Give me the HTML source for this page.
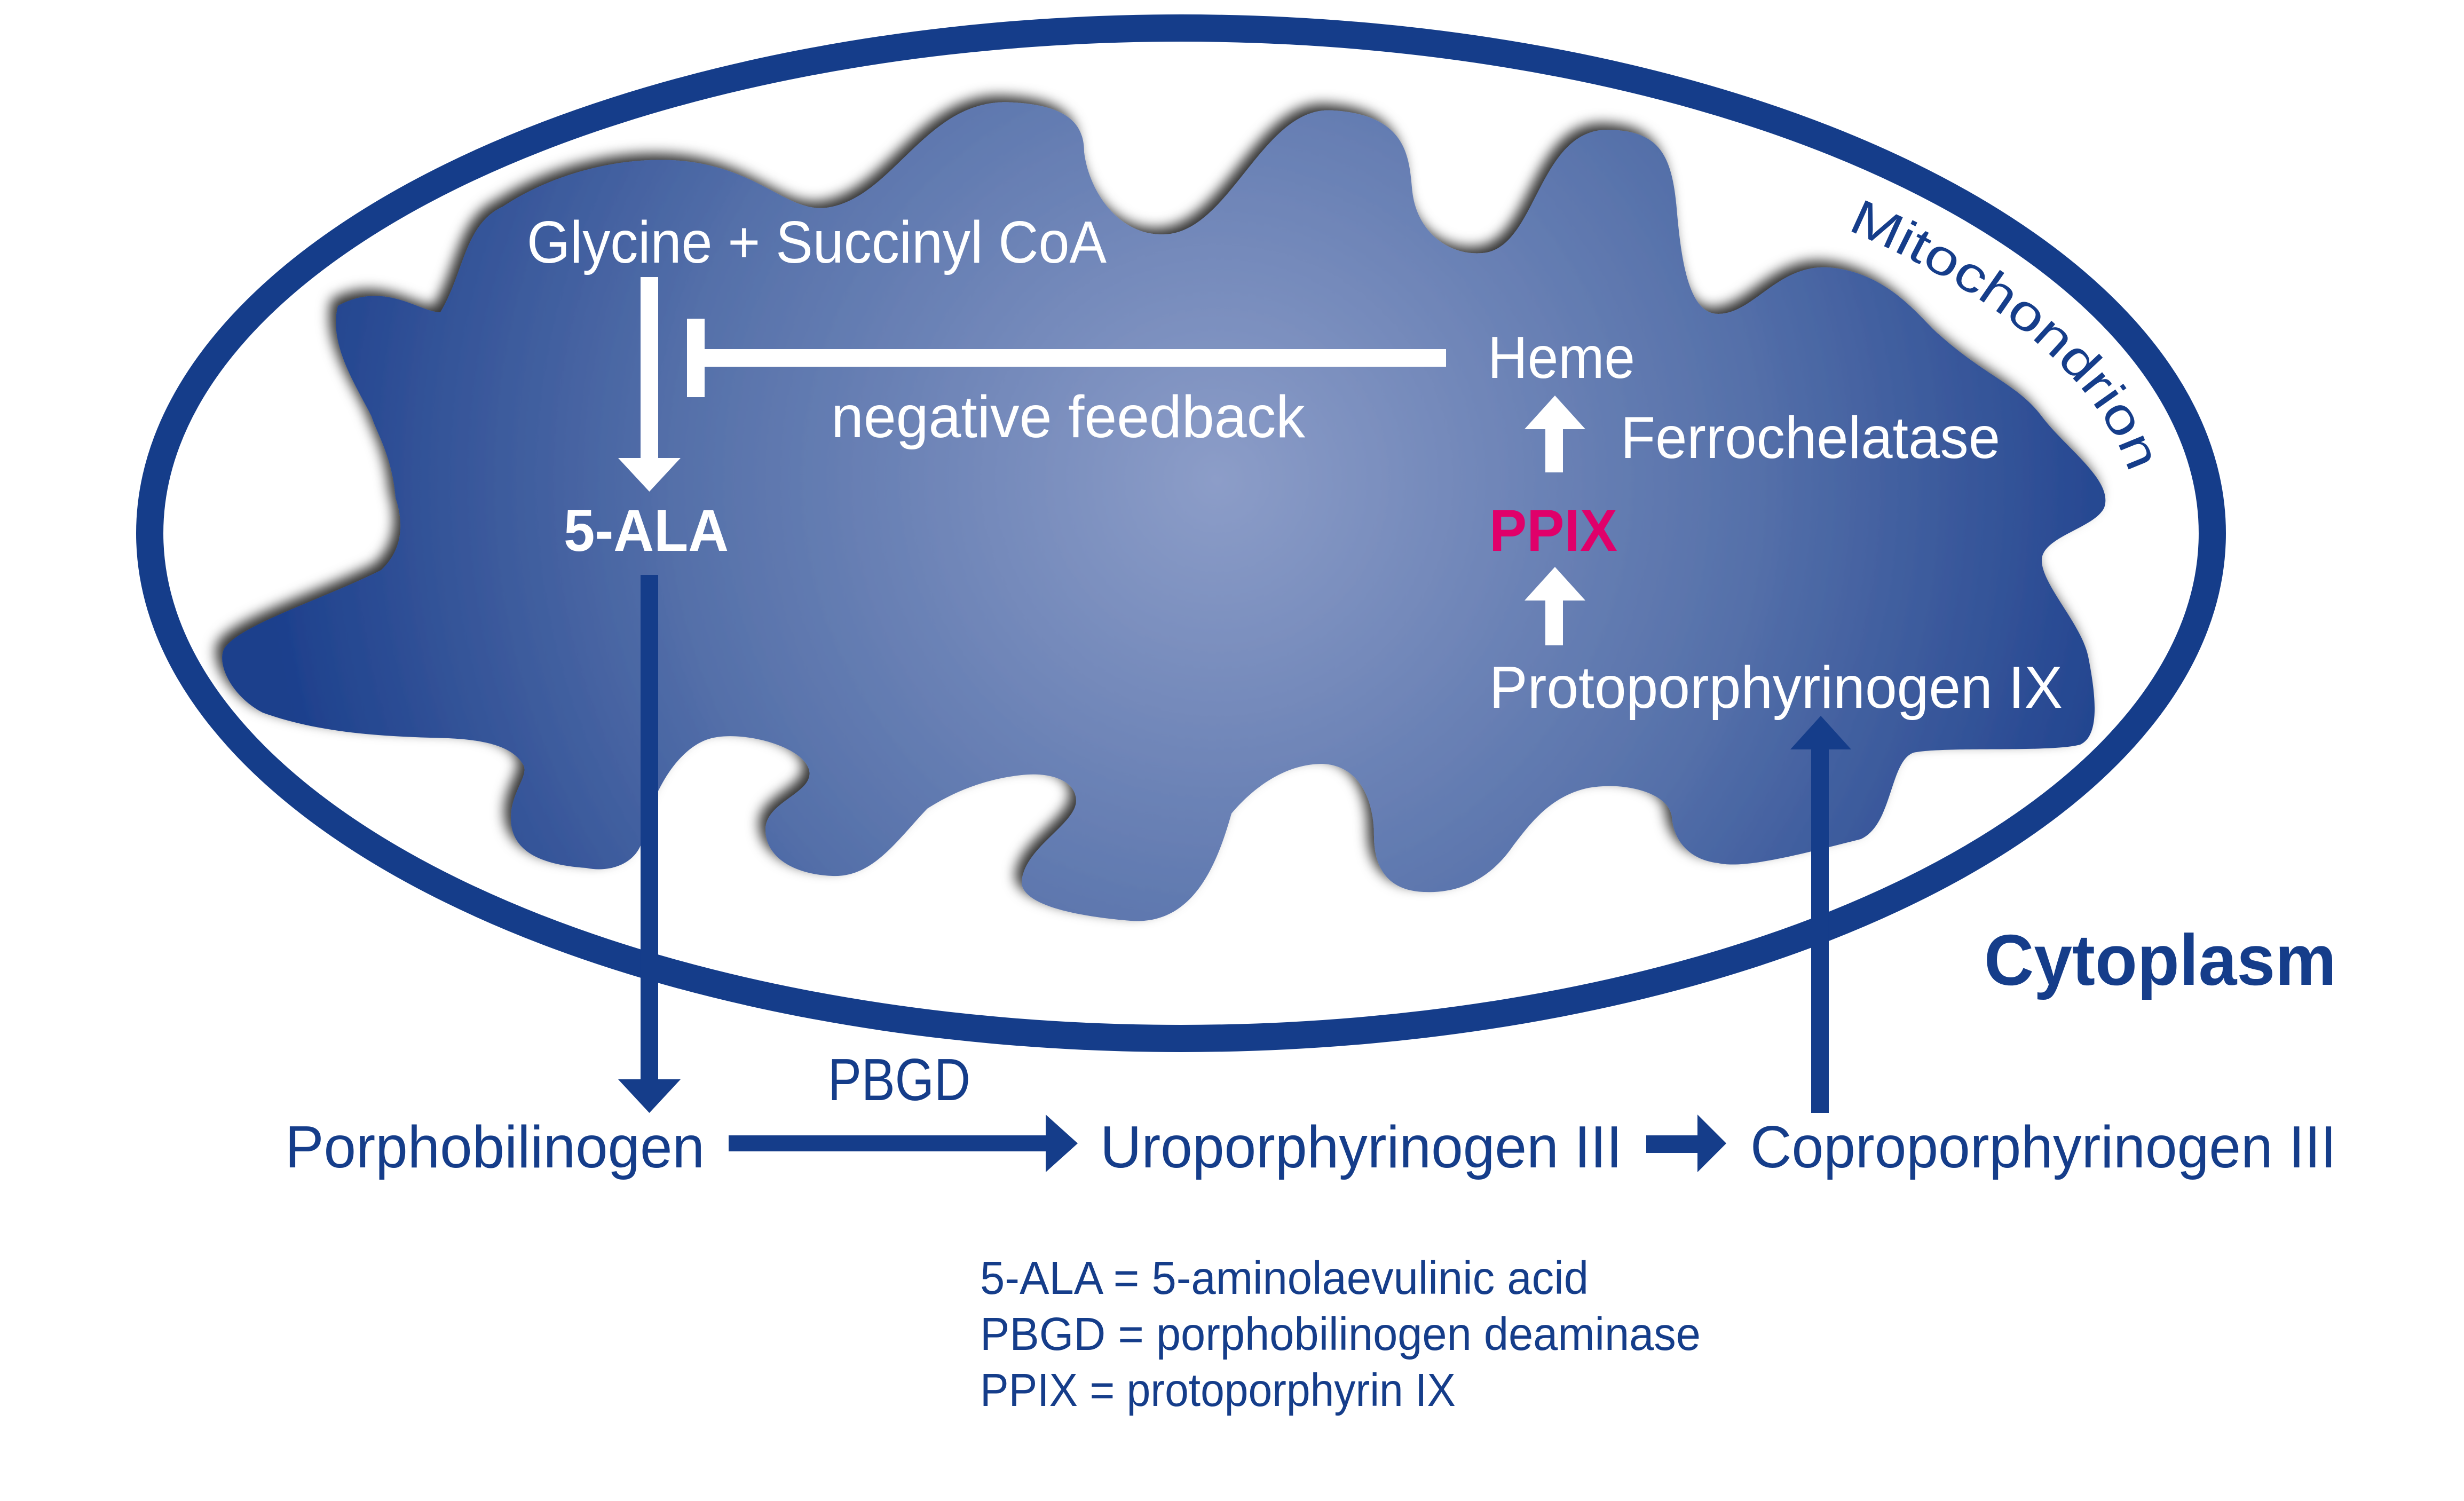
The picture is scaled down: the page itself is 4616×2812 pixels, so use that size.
<!DOCTYPE html>
<html><head><meta charset="utf-8"><style>
html,body{margin:0;padding:0;background:#fff;}
svg{display:block;}
text{font-family:"Liberation Sans",sans-serif;}
</style></head><body>
<svg width="4616" height="2812" viewBox="0 0 1538.67 937.33" xmlns="http://www.w3.org/2000/svg">
<defs>
<radialGradient id="g" cx="760" cy="300" r="600" gradientUnits="userSpaceOnUse">
<stop offset="0" stop-color="#8c9dc8"/>
<stop offset="0.55" stop-color="#5671aa"/>
<stop offset="1" stop-color="#1c3f8c"/>
</radialGradient>
<filter id="sh" x="-10%" y="-10%" width="120%" height="120%">
<feDropShadow dx="-4" dy="-4" stdDeviation="4" flood-color="#000" flood-opacity="0.8"/>
</filter>
<path id="arcp" d="M1140,138 A598,262 0 0 1 1335.5,333"/>
</defs>
<path filter="url(#sh)" fill="url(#g)" d="
M211,191 C240,175 262,195 275,195
C290,170 290,140 314,129
C350,105 400,95 437,102
C480,110 495,135 520,129
C560,120 580,60 633,64
C670,66 677,80 677,95
C680,120 700,150 731,146
C770,140 790,65 833,69
C880,72 880,100 882,120
C885,145 905,160 926,158
C960,155 960,80 1005,81
C1035,82 1044,95 1047,130
C1050,165 1055,196 1073,196
C1095,196 1110,165 1142,167
C1180,170 1200,200 1211,209
C1240,235 1260,240 1275,260
C1290,280 1320,300 1314,317
C1308,330 1275,335 1275,350
C1275,365 1300,390 1304,410
C1310,440 1310,460 1299,465
C1280,470 1215,466 1195,470
C1180,475 1182,515 1162,524
C1130,532 1090,543 1073,539
C1055,537 1045,525 1044,510
C1042,495 1015,488 992,492
C968,497 955,515 945,528
C930,550 910,558 889,557
C865,556 858,540 858,522
C858,498 848,478 826,477
C800,477 780,495 769,508
C760,540 745,578 706,575
C670,572 640,565 638,552
C638,530 672,515 672,500
C672,487 655,482 638,484
C610,487 590,498 579,505
C560,525 545,548 520,547
C495,546 478,535 478,518
C478,500 510,495 505,480
C500,465 460,455 441,462
C420,470 405,500 400,528
C395,540 380,545 366,542
C335,540 319,530 319,511
C319,495 330,485 327,478
C320,465 300,462 280,461
C240,460 200,458 164,445
C145,435 135,415 140,405
C150,390 200,375 238,356
C255,340 250,320 247,311
C245,285 235,270 232,260
C222,240 205,215 211,191 Z"/>
<ellipse cx="737.5" cy="333" rx="644" ry="315.5" fill="none" stroke="#153d8a" stroke-width="17"/>
<text font-size="31" fill="#153d8a"><textPath href="#arcp" startOffset="14" textLength="240" lengthAdjust="spacingAndGlyphs">Mitochondrion</textPath></text>

<g fill="#fff" font-size="37">
<text x="329" y="164" textLength="362" lengthAdjust="spacingAndGlyphs">Glycine + Succinyl CoA</text>
<text x="519" y="273" textLength="296" lengthAdjust="spacingAndGlyphs">negative feedback</text>
<text x="929" y="236" textLength="92" lengthAdjust="spacingAndGlyphs">Heme</text>
<text x="1012" y="286" textLength="237" lengthAdjust="spacingAndGlyphs">Ferrochelatase</text>
<text x="930" y="442" textLength="358" lengthAdjust="spacingAndGlyphs">Protoporphyrinogen IX</text>
<text x="352" y="344" font-weight="bold" textLength="103" lengthAdjust="spacingAndGlyphs">5-ALA</text>
</g>
<text x="930" y="344" font-weight="bold" font-size="37" fill="#e0006a" textLength="80" lengthAdjust="spacingAndGlyphs">PPIX</text>

<g fill="#fff">
<rect x="400" y="173" width="11" height="115"/>
<polygon points="386,286 425,286 405.5,307"/>
<rect x="429" y="218" width="474" height="11"/>
<rect x="429" y="199" width="11" height="49"/>
<rect x="965" y="266" width="11" height="29"/>
<polygon points="952,268 990,268 971,247"/>
<rect x="965" y="373" width="11" height="30"/>
<polygon points="952,375 990,375 971,354"/>
</g>

<g fill="#153d8a">
<rect x="400" y="359" width="11" height="317"/>
<polygon points="386,674 425,674 405.5,695"/>
<rect x="455" y="709" width="200" height="10"/>
<polygon points="653,696 653,732 673,714"/>
<rect x="1028" y="709" width="34" height="11"/>
<polygon points="1060,696 1060,732 1078,714"/>
<rect x="1131" y="466" width="11" height="229"/>
<polygon points="1118,468 1156,468 1137,447"/>
</g>

<g fill="#153d8a" font-size="37">
<text x="178" y="729" textLength="262" lengthAdjust="spacingAndGlyphs">Porphobilinogen</text>
<text x="517" y="687" textLength="89" lengthAdjust="spacingAndGlyphs">PBGD</text>
<text x="687" y="729" textLength="326" lengthAdjust="spacingAndGlyphs">Uroporphyrinogen III</text>
<text x="1093" y="729" textLength="366" lengthAdjust="spacingAndGlyphs">Coproporphyrinogen III</text>
<text x="1239" y="615" font-weight="bold" font-size="45" textLength="220" lengthAdjust="spacingAndGlyphs">Cytoplasm</text>
</g>
<g fill="#153d8a" font-size="29">
<text x="612" y="808" textLength="380" lengthAdjust="spacingAndGlyphs">5-ALA = 5-aminolaevulinic acid</text>
<text x="612" y="843" textLength="450" lengthAdjust="spacingAndGlyphs">PBGD = porphobilinogen deaminase</text>
<text x="612" y="878" textLength="297" lengthAdjust="spacingAndGlyphs">PPIX = protoporphyrin IX</text>
</g>
</svg>
</body></html>
